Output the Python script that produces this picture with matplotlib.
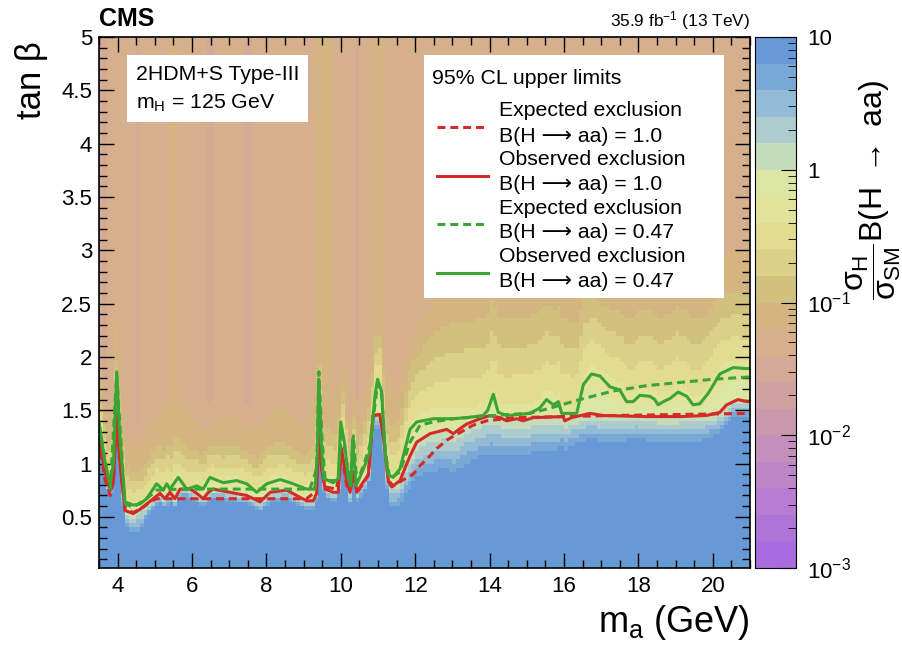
import numpy as np
import matplotlib
matplotlib.use('Agg')
import matplotlib.pyplot as plt
from matplotlib.colors import ListedColormap, LogNorm
from matplotlib.patches import Rectangle
from matplotlib.ticker import MultipleLocator, FuncFormatter, LogLocator, NullFormatter

plt.rcParams['font.family'] = ['Liberation Sans', 'DejaVu Sans']
plt.rcParams['mathtext.fontset'] = 'custom'
plt.rcParams['mathtext.rm'] = 'Liberation Sans'
plt.rcParams['mathtext.it'] = 'Liberation Sans'
plt.rcParams['mathtext.bf'] = 'Liberation Sans:bold'
plt.rcParams['mathtext.fallback'] = 'stixsans'

# --- exclusion contours (m_a in GeV, tan beta) ---
obs1_ma = [3.5, 3.66, 3.80, 3.89, 3.975, 4.06, 4.20, 4.42, 4.60, 4.78, 4.96, 5.14, 5.27, 5.41, 5.54,
           5.68, 5.95, 6.13, 6.30, 6.44, 6.57, 7.02, 7.47, 7.83, 8.10, 8.55, 8.81, 9.08, 9.26, 9.35,
           9.42, 9.48, 9.58, 9.80, 9.93, 10.02, 10.16, 10.25, 10.34, 10.43, 10.61, 10.74, 10.87, 11.05,
           11.14, 11.28, 11.37, 11.59, 11.86, 12.04, 12.40, 12.85, 13.02, 13.38, 13.74, 14.01, 14.28,
           14.46, 14.73, 14.90, 15.17, 15.98, 16.02, 16.20, 16.70, 17.06, 18.22, 19.12, 19.83, 20.19,
           20.37, 20.68, 20.91, 21.0]
obs1_tb = [1.25, 0.92, 0.75, 0.85, 1.46, 1.01, 0.56, 0.53, 0.57, 0.62, 0.67, 0.72, 0.67, 0.73, 0.67,
           0.76, 0.76, 0.72, 0.67, 0.73, 0.76, 0.73, 0.70, 0.64, 0.73, 0.75, 0.70, 0.65, 0.65, 0.72,
           1.42, 0.95, 0.76, 0.73, 0.73, 1.14, 0.83, 0.73, 0.92, 0.73, 0.83, 0.89, 1.45, 1.46,
           1.26, 0.83, 0.78, 0.84, 1.07, 1.20, 1.28, 1.32, 1.28, 1.37, 1.42, 1.45, 1.43,
           1.40, 1.42, 1.40, 1.43, 1.44, 1.40, 1.43, 1.47, 1.45, 1.44, 1.44, 1.45, 1.48,
           1.55, 1.60, 1.58, 1.58]

exp1_ma = [3.5, 3.66, 3.80, 3.89, 3.975, 4.08, 4.20, 4.42, 4.69, 4.87, 5.05, 5.68, 6.57, 7.47, 8.37,
           9.08, 9.26, 9.37, 9.42, 9.49, 9.58, 9.89, 10.02, 10.16, 10.25, 10.34, 10.43, 10.61, 10.74,
           10.87, 11.05, 11.16, 11.28, 11.41, 11.59, 11.95, 12.13, 12.31, 12.58, 12.85, 13.20, 13.56,
           13.92, 14.64, 17.32, 21.0]
exp1_tb = [1.23, 0.85, 0.70, 0.83, 1.48, 0.95, 0.58, 0.54, 0.59, 0.64, 0.67, 0.67, 0.67, 0.67, 0.67,
           0.67, 0.72, 0.86, 1.48, 0.92, 0.78, 0.76, 1.11, 0.79, 0.75, 0.92, 0.73, 0.81, 0.90,
           1.45, 1.46, 1.23, 0.84, 0.79, 0.83, 0.90, 0.98, 1.04, 1.14, 1.22, 1.29, 1.36,
           1.40, 1.43, 1.45, 1.47]

obs047_ma = [3.5, 3.66, 3.80, 3.89, 3.975, 4.06, 4.20, 4.42, 4.60, 4.78, 5.05, 5.23, 5.32, 5.41, 5.63,
             5.86, 6.13, 6.30, 6.48, 6.84, 7.20, 7.47, 7.74, 8.01, 8.37, 8.72, 9.08, 9.31, 9.37, 9.41,
             9.47, 9.53, 9.80, 9.93, 10.00, 10.11, 10.20, 10.27, 10.32, 10.41, 10.61, 10.78, 10.92,
             10.99, 11.10, 11.19, 11.28, 11.41, 11.59, 11.73, 11.86, 12.04, 12.49, 13.02, 13.38,
             13.83, 13.95, 14.10, 14.23, 14.46, 15.08, 15.35, 15.53, 15.71, 15.85, 15.94, 16.34,
             16.52, 16.74, 16.97, 17.23, 17.50, 17.68, 17.86, 18.04, 18.31, 18.44, 18.53, 18.67,
             18.85, 19.07, 19.30, 19.47, 19.65, 19.88, 20.19, 20.55, 20.91, 21.0]
obs047_tb = [1.39, 1.01, 0.81, 1.01, 1.86, 1.26, 0.64, 0.61, 0.62, 0.67, 0.81, 0.75, 0.81, 0.76, 0.87,
             0.76, 0.79, 0.76, 0.87, 0.82, 0.84, 0.81, 0.73, 0.81, 0.85, 0.81, 0.76, 0.76, 1.11, 1.79,
             1.26, 0.86, 0.82, 0.86, 1.39, 1.17, 0.86, 0.79, 1.23, 0.79, 0.95, 1.11, 1.64,
             1.79, 1.67, 1.11, 0.89, 0.87, 0.95, 1.14, 1.32, 1.39, 1.42, 1.42, 1.43,
             1.45, 1.50, 1.65, 1.48, 1.45, 1.47, 1.52, 1.60, 1.55, 1.58, 1.47, 1.47,
             1.74, 1.84, 1.82, 1.72, 1.69, 1.58, 1.58, 1.64, 1.63, 1.60, 1.55, 1.58,
             1.61, 1.67, 1.63, 1.55, 1.56, 1.66, 1.84, 1.90, 1.89, 1.89]

exp047_ma = [3.5, 3.80, 3.975, 4.20, 4.42, 4.78, 5.05, 5.68, 6.57, 7.47, 8.37, 9.17, 9.35, 9.41, 9.49,
             9.58, 9.93, 10.02, 10.16, 10.25, 10.34, 10.43, 10.61, 10.78, 10.99, 11.10, 11.19, 11.32,
             11.59, 11.86, 12.13, 12.49, 13.02, 13.74, 14.50, 15.08, 15.53, 16.43, 17.32, 18.22,
             19.12, 20.01, 20.91, 21.0]
exp047_tb = [1.37, 0.76, 1.83, 0.62, 0.59, 0.67, 0.75, 0.76, 0.76, 0.76, 0.76, 0.76, 0.95, 1.86, 1.26,
             0.84, 0.84, 1.32, 1.01, 0.82, 1.26, 0.82, 0.98, 1.17, 1.75, 1.64, 1.11, 0.86,
             0.92, 1.20, 1.36, 1.39, 1.42, 1.44, 1.46, 1.47, 1.51, 1.60, 1.68, 1.73,
             1.76, 1.79, 1.81, 1.81]

# --- shape of the limit map, read column by column (every 0.5 GeV) ---
node_ma = np.arange(3.5, 21.01, 0.5)
plateau = [0.03, 0.06, 0.038, 0.05, 0.065, 0.05, 0.036, 0.05, 0.038, 0.05, 0.055, 0.045,
           0.08, 0.05, 0.037, 0.07, 0.05, 0.045, 0.05, 0.06, 0.05, 0.06, 0.05, 0.045,
           0.055, 0.05, 0.06, 0.055, 0.05, 0.045, 0.055, 0.05, 0.05, 0.055, 0.06, 0.06]
blue_gap = [0.1, 0.1, 0.25, 0.12, 0.1, 0.1, 0.1, 0.1, 0.1, 0.12, 0.1, 0.1,
            0.1, 0.12, 0.12, 0.15, 0.25, 0.4, 0.45, 0.45, 0.45, 0.45, 0.4, 0.4,
            0.4, 0.35, 0.3, 0.3, 0.3, 0.25, 0.3, 0.3, 0.3, 0.25, 0.2, 0.15]
khaki_gap = [0.3, 0.35, 0.3, 0.35, 0.4, 0.35, 0.3, 0.35, 0.3, 0.35, 0.35, 0.3,
             0.5, 0.4, 0.35, 0.5, 0.45, 0.6, 0.8, 0.9, 0.9, 0.9, 0.9, 0.9,
             0.9, 0.9, 0.8, 0.7, 0.75, 0.8, 0.8, 0.8, 0.8, 0.75, 0.7, 0.7]

legend_title = '95% CL upper limits'
legend_rows = [('Expected exclusion', 'B(H ⟶ aa) = 1.0'),
               ('Observed exclusion', 'B(H ⟶ aa) = 1.0'),
               ('Expected exclusion', 'B(H ⟶ aa) = 0.47'),
               ('Observed exclusion', 'B(H ⟶ aa) = 0.47')]

palette = ['#a86ce0', '#ae74d8', '#b67dd0', '#bd86c6', '#c58fbb',
           '#cc98ae', '#d1a1a2', '#d4a996', '#d6b08c', '#d4b582',
           '#d2c07f', '#dccf88', '#e2dc90', '#e2e39a', '#dce6a4',
           '#c5dcba', '#adcccd', '#94bbd6', '#7aa8d6', '#6699d6']
cmap = ListedColormap(palette)
red = '#d42a2a'
green = '#3aa535'

# --- build the 2D map ---
ma_edges = np.arange(3.5, 21.0 + 1e-9, 0.1)
tb_edges = np.arange(0.0, 5.0 + 1e-9, 0.04)
ma_c = 0.5 * (ma_edges[:-1] + ma_edges[1:])
tb_c = 0.5 * (tb_edges[:-1] + tb_edges[1:])
t1 = np.interp(ma_c, obs1_ma, obs1_tb)
t2 = np.maximum(np.interp(ma_c, obs047_ma, obs047_tb), t1 + 0.02)
gb = np.interp(ma_c, node_ma, blue_gap)
gk = np.interp(ma_c, node_ma, khaki_gap)
zp = np.interp(ma_c, node_ma, plateau)
logz = np.empty((len(tb_c), len(ma_c)))
for j in range(len(ma_c)):
    xp = [t1[j] - gb[j], t1[j], t2[j], t2[j] + gk[j], t2[j] + gk[j] + 0.45]
    fp = [1.0, 0.0, np.log10(0.47), -1.0, np.log10(zp[j])]
    logz[:, j] = np.interp(tb_c, xp, fp)
z = np.clip(10 ** logz, 1.001e-3, 9.99)

W, H = 902, 648
fig = plt.figure(figsize=(9.02, 6.48), dpi=100)


def fx(px):
    return px / W


def fy(py):
    return 1 - py / H


ax = fig.add_axes([fx(99), fy(568), fx(750) - fx(99), fy(37) - fy(568)])
cax = fig.add_axes([fx(755), fy(568), fx(796) - fx(755), fy(37) - fy(568)])


def axx(px):
    return (px - 99) / 651


def axy(py):
    return (568 - py) / 531


mesh = ax.pcolormesh(ma_edges, tb_edges, z, cmap=cmap, norm=LogNorm(1e-3, 10),
                     shading='flat', rasterized=True)

ax.plot(exp1_ma, exp1_tb, color=red, lw=2.2, ls=(0, (2.6, 1.6)))
ax.plot(obs1_ma, obs1_tb, color=red, lw=2.2)
ax.plot(exp047_ma, exp047_tb, color=green, lw=2.2, ls=(0, (2.6, 1.6)))
ax.plot(obs047_ma, obs047_tb, color=green, lw=2.2)

ax.set_xlim(3.5, 21)
ax.set_ylim(0.02, 5)
ax.set_xticks(np.arange(4, 21, 2))
ax.xaxis.set_minor_locator(MultipleLocator(0.5))
ax.yaxis.set_major_locator(MultipleLocator(0.5))
ax.yaxis.set_minor_locator(MultipleLocator(0.1))
ax.yaxis.set_major_formatter(FuncFormatter(lambda v, p: '%g' % v))
ax.tick_params(which='both', direction='in', top=True, right=True, labelsize=16, width=1)
ax.tick_params(which='major', length=11)
ax.tick_params(which='minor', length=6)
ax.tick_params(axis='x', pad=6)
ax.tick_params(axis='y', pad=5)
for s in ax.spines.values():
    s.set_linewidth(1.2)

# text boxes
ax.add_patch(Rectangle((axx(127), axy(122)), axx(308) - axx(127), axy(55) - axy(122),
                       transform=ax.transAxes, facecolor='white', edgecolor='none', zorder=5))
ax.text(axx(136), axy(75), '2HDM+S Type-III', transform=ax.transAxes, fontsize=15.3,
        va='center', zorder=6)
ax.text(axx(136), axy(103), r'm$_{\mathrm{H}}$ = 125 GeV', transform=ax.transAxes, fontsize=15.3,
        va='center', zorder=6)

ax.add_patch(Rectangle((axx(424), axy(298)), axx(724) - axx(424), axy(55) - axy(298),
                       transform=ax.transAxes, facecolor='white', edgecolor='none', zorder=5))
ax.text(axx(432), axy(78), legend_title, transform=ax.transAxes, fontsize=15.3, va='center', zorder=6)
styles = [(red, (0, (2.6, 1.6))), (red, '-'), (green, (0, (2.6, 1.6))), (green, '-')]
for i, ((l1, l2), (c, ls)) in enumerate(zip(legend_rows, styles)):
    y0 = 111 + i * 48.5
    ax.text(axx(499), axy(y0), l1, transform=ax.transAxes, fontsize=15.3, va='center', zorder=6)
    ax.text(axx(499), axy(y0 + 25), l2, transform=ax.transAxes, fontsize=15.3, va='center', zorder=6)
    ax.plot([axx(437), axx(488)], [axy(y0 + 16)] * 2, transform=ax.transAxes, color=c, ls=ls,
            lw=2.2, zorder=6, clip_on=False)

# colorbar
cb = fig.colorbar(mesh, cax=cax)
cb.set_ticks([1e-3, 1e-2, 1e-1, 1, 10])
cb.set_ticklabels([r'$10^{-3}$', r'$10^{-2}$', r'$10^{-1}$', '1', '10'])
cax.yaxis.set_minor_locator(LogLocator(base=10, subs=np.arange(2, 10)))
cax.yaxis.set_minor_formatter(NullFormatter())
cax.tick_params(which='both', direction='in', right=True, left=False, labelsize=16, pad=8)
cax.tick_params(which='major', length=11)
cax.tick_params(which='minor', length=6)
cb.outline.set_linewidth(0.8)

fig.text(fx(874), fy(190), r'$\dfrac{\sigma_{\mathrm{H}}}{\sigma_{\mathrm{SM}}}$B(H $\rightarrow$ aa)',
         rotation=90, fontsize=23, ha='center', va='center')

# labels
fig.text(fx(31), fy(80), 'tan β', rotation=90, fontsize=25, ha='center', va='center')
fig.text(fx(750), fy(622), r'm$_{\mathrm{a}}$ (GeV)', fontsize=26, ha='right', va='center')
fig.text(fx(99), fy(19), 'CMS', fontsize=18, fontweight='bold', ha='left', va='center')
fig.text(fx(750), fy(21), r'35.9 fb$^{-1}$ (13 TeV)', fontsize=12.4, ha='right', va='center')

fig.savefig('out.png', dpi=100)
